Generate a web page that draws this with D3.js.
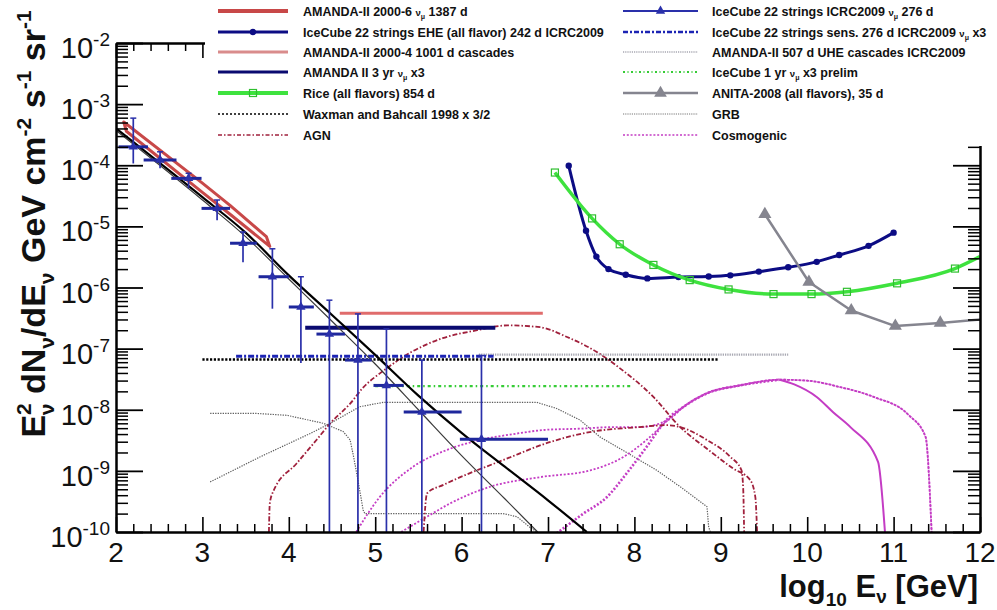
<!DOCTYPE html>
<html>
<head>
<meta charset="utf-8">
<script src="https://cdn.jsdelivr.net/npm/d3@7/dist/d3.min.js"></script>
<style>
  html,body{margin:0;padding:0;background:#fff;}
  svg{display:block;font-family:"Liberation Sans",Arial,Helvetica,sans-serif;}
  text{white-space:pre;}
</style>
</head>
<body>
<svg id="chart" width="997" height="610"></svg>
<script>
// ---------- axis ticks ----------
const xMajorTicks = [2,3,4,5,6,7,8,9,10,11,12];
const yDecadeExponents = [-2,-3,-4,-5,-6,-7,-8,-9,-10];

// ---------- data: [log10(E/GeV), E^2 dN/dE (GeV cm^-2 s^-1 sr^-1)] ----------
// AMANDA-II 2000-6 unfolded numu band (upper / lower edge)
const amandaUnfoldUpper = [[2.09,5.1e-4],[3.0,5.1e-5],[3.32,2.2e-5],[3.74,6.8e-6]];
const amandaUnfoldLower = [[2.12,3.6e-4],[3.0,3.6e-5],[3.32,1.58e-5],[3.78,4.7e-6]];

// atmospheric neutrino predictions
const atmWithPrompt = [[2,4.0e-4],[3,3.0e-5],[3.5,7.9e-6],[4,1.58e-6],[4.5,3.55e-7],[5,7.9e-8],[5.5,1.7e-8],[6,4.2e-9],[6.5,1.17e-9],[7,3.3e-10],[7.45,1.0e-10]];
const atmConventional = [[2,3.7e-4],[3,2.7e-5],[3.5,6.8e-6],[4,1.38e-6],[4.5,2.8e-7],[5,5.6e-8],[5.5,1.0e-8],[6,1.78e-9],[6.5,3.5e-10],[6.88,1.0e-10]];

// IceCube 22 strings unfolded numu spectrum (276 d)
const ic22LogE   = [2.20,2.51,2.84,3.17,3.47,3.81,4.14,4.47,4.80,5.13,5.54,6.23];
const ic22Flux   = [2.0e-4,1.22e-4,6.1e-5,1.97e-5,5.3e-6,1.5e-6,4.8e-7,1.73e-7,6.5e-8,2.5e-8,9.2e-9,3.3e-9];
const ic22LogELo = [2.03,2.32,2.64,2.99,3.32,3.65,4.00,4.32,4.65,4.98,5.33,5.98];
const ic22LogEHi = [2.37,2.70,2.99,3.32,3.63,4.00,4.29,4.65,4.96,5.33,6.00,7.00];
const ic22FluxHi = [5.9e-4,1.66e-4,7.4e-5,2.7e-5,8.1e-6,4.3e-6,1.5e-6,6.2e-7,3.7e-7,2.1e-7,6.5e-8,7.7e-8];
const ic22FluxLo = [1.07e-4,8.9e-5,4.2e-5,1.26e-5,2.6e-6,4.5e-7,5.8e-8,0,0,0,0,0]; // 0 = no lower bound

// IceCube 22 strings EHE (all flavor) 242 d
const ic22EHE = [[7.24,9.8e-5],[7.44,8.5e-6],[7.56,3.2e-6],[7.70,2.0e-6],[7.90,1.62e-6],[8.15,1.41e-6],[8.51,1.48e-6],[8.86,1.51e-6],[9.11,1.58e-6],[9.44,1.82e-6],[9.78,2.14e-6],[10.11,2.63e-6],[10.37,3.4e-6],[10.71,4.8e-6],[11.0,7.9e-6]];

// RICE (all flavors) 854 d
const rice = [[7.08,7.6e-5],[7.51,1.35e-5],[7.83,5.1e-6],[8.22,2.34e-6],[8.64,1.32e-6],[9.09,9.3e-7],[9.61,7.8e-7],[10.05,7.8e-7],[10.46,8.5e-7],[11.04,1.17e-6],[11.71,2.04e-6],[12.0,3.2e-6]];

// ANITA-2008 (all flavors) 35 d
const anita = [[9.51,1.58e-5],[10.02,1.23e-6],[10.51,4.2e-7],[11.02,2.34e-7],[11.54,2.63e-7],[12.0,3.0e-7]];

// integral limits / sensitivities: [start, value], [end, value]
const amanda3yr   = [[4.19,2.2e-7],[6.39,2.2e-7]];
const amandaCasc  = [[4.59,3.8e-7],[6.94,3.8e-7]];
const ic22Sens    = [[3.39,7.5e-8],[6.37,7.5e-8]];
const waxmanBahcall = [[3.0,6.65e-8],[8.97,6.65e-8]];
const amandaUHE   = [[6.2,8.0e-8],[9.78,8.0e-8]];
const ic1yr       = [[5.0,2.43e-8],[7.97,2.43e-8]];

// GRB models
const grbA = [[3.09,8.7e-9],[3.63,8.7e-9],[3.98,8.1e-9],[4.40,6.0e-9],[4.63,4.4e-9],[4.71,3.2e-9],[4.75,1.7e-9],[4.80,7.1e-10],[4.86,2.3e-10],[4.88,2.0e-10],[6.48,2.0e-10],[6.64,1.78e-10],[6.79,1.2e-10],[6.87,1.0e-10]];
const grbB = [[3.09,6.6e-10],[3.67,1.7e-9],[4.25,4.1e-9],[4.48,6.0e-9],[4.82,1.12e-8],[5.09,1.32e-8],[6.87,1.32e-8],[7.10,1.05e-8],[7.37,6.8e-9],[7.60,3.6e-9],[7.91,2.0e-9],[8.26,1.02e-9],[8.53,5.5e-10],[8.84,2.6e-10],[8.86,1.2e-10],[8.88,1.0e-10]];

// AGN models
const agnA = [[3.77,1.0e-10],[3.78,2.95e-10],[3.82,4.6e-10],[4.09,1.32e-9],[4.32,3.2e-9],[4.48,6.0e-9],[4.71,1.26e-8],[4.86,2.3e-8],[5.11,4.5e-8],[5.40,8.5e-8],[5.78,1.48e-7],[6.18,2.0e-7],[6.53,2.4e-7],[6.91,2.24e-7],[7.22,1.55e-7],[7.56,8.9e-8],[7.83,4.8e-8],[8.22,1.62e-8],[8.53,5.2e-9],[8.84,2.3e-9],[9.14,1.1e-9],[9.34,7.1e-10],[9.40,3.7e-10],[9.42,1.0e-10]];
const agnB = [[5.56,1.0e-10],[5.60,4.3e-10],[5.79,5.9e-10],[6.52,1.58e-9],[7.02,2.95e-9],[7.52,4.4e-9],[8.06,5.2e-9],[8.37,5.6e-9],[8.53,5.2e-9],[8.84,3.2e-9],[9.11,1.7e-9],[9.24,1.02e-9],[9.26,4.8e-10],[9.27,1.0e-10]];

// cosmogenic models
const cosmoA = [[4.78,1.0e-10],[5.05,3.7e-10],[5.44,1.17e-9],[5.83,2.2e-9],[6.21,3.2e-9],[6.60,4.0e-9],[6.98,4.7e-9],[7.37,4.9e-9],[7.76,5.2e-9],[8.06,5.2e-9],[8.39,6.8e-9],[8.57,1.12e-8],[8.84,1.86e-8],[9.22,2.5e-8],[9.68,3.1e-8],[9.99,3.0e-8],[10.38,2.35e-8],[10.77,1.62e-8],[11.17,8.3e-9],[11.37,3.6e-9],[11.44,1.0e-10]];
const cosmoB = [[5.30,1.0e-10],[5.60,1.78e-10],[5.87,2.95e-10],[6.33,5.5e-10],[6.91,7.9e-10],[7.49,1.02e-9],[7.91,1.82e-9],[8.14,3.2e-9],[8.39,6.8e-9],[8.57,1.12e-8],[8.84,1.86e-8],[9.22,2.5e-8],[9.68,3.1e-8],[9.99,3.0e-8],[10.38,2.35e-8],[10.77,1.62e-8],[11.17,8.3e-9],[11.37,3.6e-9],[11.44,1.0e-10]];
const cosmoC = [[7.10,9.5e-11],[7.41,2.0e-10],[7.68,3.7e-10],[7.91,9.1e-10],[8.14,2.45e-9],[8.37,6.8e-9],[8.57,1.12e-8],[8.84,1.86e-8],[9.22,2.5e-8],[9.68,3.1e-8]];
const cosmoCTail = [[9.68,3.1e-8],[9.85,2.6e-8],[10.11,1.62e-8],[10.30,9.1e-9],[10.50,5.2e-9],[10.82,1.4e-9],[10.90,1.0e-10]];

// ---------- layout & scales ----------
const M = {left:116, right:980, top:43, bottom:532};
const legendBox = {x:205, y:0, w:792, h:146};
const svg = d3.select("#chart");
const x = d3.scaleLinear().domain([2,12]).range([M.left, M.right]);
const y = d3.scaleLog().domain([1e-10,1e-2]).range([M.bottom, M.top]);

svg.append("rect").attr("width",997).attr("height",610).attr("fill","#fff");
svg.append("clipPath").attr("id","plotClip").append("rect")
  .attr("x",M.left).attr("y",M.top).attr("width",M.right-M.left).attr("height",M.bottom-M.top);
const plot = svg.append("g").attr("clip-path","url(#plotClip)");

const st = {
  amandaUnfold:{color:"#c84848", width:3},
  ehe:{color:"#0c0c84", width:3},
  amandaCasc:{color:"#e06c6c", width:3},
  amanda3yr:{color:"#0a0a70", width:4},
  rice:{color:"#3ee23e", width:3.5, marker:"#2fbf2f"},
  wb:{color:"#000", width:2.4, dash:"2.2,1.6"},
  agn:{color:"#a0203c", width:1.8, dash:"5,2,1.5,2"},
  ic22:{color:"#2a30aa", width:2, bar:"#1e279c"},
  ic22Sens:{color:"#1c24b4", width:3, dash:"6,2,2,2"},
  amandaUHE:{color:"#a8a8b2", width:2.2, dash:"1.3,1"},
  ic1yr:{color:"#36cc36", width:2.2, dash:"3,3,1.5,3"},
  anita:{color:"#85858f", width:2.5},
  grb:{color:"#5e5e5e", width:1.2, dash:"1.3,1.2"},
  cosmo:{color:"#c43cc4", width:2, dash:"2,1.8"}
};

function drawSeries(data, s, curve, widthOverride){
  plot.append("path").datum(data)
    .attr("fill","none")
    .attr("stroke", s.color)
    .attr("stroke-width", widthOverride || s.width)
    .attr("stroke-dasharray", s.dash || null)
    .attr("stroke-linejoin","round")
    .attr("d", d3.line().x(d=>x(d[0])).y(d=>y(d[1])).curve(curve || d3.curveLinear));
}

// ---------- model curves ----------
drawSeries(grbA, st.grb);
drawSeries(grbB, st.grb);
drawSeries(cosmoA, st.cosmo, d3.curveMonotoneX, 1.8);
drawSeries(cosmoB, st.cosmo, d3.curveMonotoneX, 1.8);
drawSeries(cosmoC, st.cosmo, d3.curveMonotoneX, 2.6);
drawSeries(cosmoCTail, {color:st.cosmo.color, width:2}, d3.curveMonotoneX);
drawSeries(agnA, st.agn, d3.curveMonotoneX);
drawSeries(agnB, st.agn, d3.curveMonotoneX);

// ---------- integral limits ----------
drawSeries(amandaUHE, st.amandaUHE);
drawSeries(waxmanBahcall, st.wb);
drawSeries(ic22Sens, st.ic22Sens);
drawSeries(ic1yr, st.ic1yr);
drawSeries(amandaCasc, st.amandaCasc);
drawSeries(amanda3yr, st.amanda3yr);

// ---------- atmospheric predictions ----------
drawSeries(atmConventional, {color:"#3a3a3a", width:1.2}, d3.curveMonotoneX);
drawSeries(atmWithPrompt, {color:"#000", width:2.2}, d3.curveMonotoneX);

// ---------- AMANDA-II unfolded band ----------
const bandPoly = amandaUnfoldUpper.concat(amandaUnfoldLower.slice().reverse());
plot.append("path").datum(bandPoly)
  .attr("fill","#fff6f4").attr("fill-opacity",0.6)
  .attr("stroke",st.amandaUnfold.color).attr("stroke-width",st.amandaUnfold.width)
  .attr("stroke-linejoin","round")
  .attr("d", d3.line().x(d=>x(d[0])).y(d=>y(d[1])).curve(d3.curveLinearClosed));

// ---------- IceCube 22 unfolded points ----------
const ic22Pts = ic22LogE.map((e,i)=>({e, f:ic22Flux[i], e0:ic22LogELo[i], e1:ic22LogEHi[i], f0:ic22FluxLo[i], f1:ic22FluxHi[i]}));
const ptG = plot.append("g");
ptG.selectAll(".vbar").data(ic22Pts).join("line")
  .attr("x1",d=>x(d.e)).attr("x2",d=>x(d.e))
  .attr("y1",d=>d.f0>0 ? y(d.f0) : M.bottom+4).attr("y2",d=>y(d.f1))
  .attr("stroke",st.ic22.color).attr("stroke-width",1.7);
ptG.selectAll(".cap").data(ic22Pts).join("line")
  .attr("x1",d=>x(d.e)-3).attr("x2",d=>x(d.e)+3)
  .attr("y1",d=>y(d.f1)).attr("y2",d=>y(d.f1))
  .attr("stroke",st.ic22.color).attr("stroke-width",1.5);
ptG.selectAll(".hbar").data(ic22Pts).join("line")
  .attr("x1",d=>x(d.e0)).attr("x2",d=>x(d.e1))
  .attr("y1",d=>y(d.f)).attr("y2",d=>y(d.f))
  .attr("stroke",st.ic22.bar).attr("stroke-width",3);
ptG.selectAll(".tri").data(ic22Pts).join("path")
  .attr("transform",d=>`translate(${x(d.e)},${y(d.f)})`)
  .attr("d", d3.symbol(d3.symbolTriangle).size(38))
  .attr("fill",st.ic22.color);

// ---------- EHE, RICE, ANITA ----------
drawSeries(ic22EHE, st.ehe, d3.curveMonotoneX);
plot.selectAll(".eheDot").data(ic22EHE).join("circle")
  .attr("cx",d=>x(d[0])).attr("cy",d=>y(d[1])).attr("r",3.2).attr("fill",st.ehe.color);

drawSeries(rice, st.rice, d3.curveMonotoneX);
plot.selectAll(".riceSq").data(rice.filter(d=>d[0]<12)).join("rect")
  .attr("x",d=>x(d[0])-3.5).attr("y",d=>y(d[1])-3.5).attr("width",7).attr("height",7)
  .attr("fill","none").attr("stroke",st.rice.marker).attr("stroke-width",1.2);

drawSeries(anita, st.anita);
plot.selectAll(".anitaTri").data(anita.filter(d=>d[0]<12)).join("path")
  .attr("transform",d=>`translate(${x(d[0])},${y(d[1])})`)
  .attr("d", d3.symbol(d3.symbolTriangle).size(75))
  .attr("fill",st.anita.color);

// ---------- axes (frame with inward ticks) ----------
const xMinor = d3.range(2,12.0001,0.2).map(v=>+v.toFixed(1)).filter(v=>Math.abs(v-Math.round(v))>1e-6);
const yMajor = yDecadeExponents.map(p=>Math.pow(10,p));
const yMinor = [];
yDecadeExponents.slice(1).forEach(p=>{ for(let k=2;k<=9;k++) yMinor.push(k*Math.pow(10,p)); });

function styleAxis(g, w){
  g.selectAll("path.domain").attr("stroke","#000").attr("stroke-width",2);
  g.selectAll(".tick line").attr("stroke","#000").attr("stroke-width",w);
  g.selectAll(".tick text").remove();
}
const axes = svg.append("g");
axes.append("g").attr("transform",`translate(0,${M.bottom})`)
  .call(d3.axisBottom(x).tickValues(xMinor).tickSize(-8).tickSizeOuter(0).tickFormat("")).call(g=>styleAxis(g,1.5));
axes.append("g").attr("transform",`translate(0,${M.bottom})`)
  .call(d3.axisBottom(x).tickValues(xMajorTicks).tickSize(-15).tickSizeOuter(0).tickFormat("")).call(g=>styleAxis(g,1.6));
axes.append("g").attr("transform",`translate(0,${M.top})`)
  .call(d3.axisTop(x).tickValues(xMinor).tickSize(-8).tickSizeOuter(0).tickFormat("")).call(g=>styleAxis(g,1.5));
axes.append("g").attr("transform",`translate(0,${M.top})`)
  .call(d3.axisTop(x).tickValues(xMajorTicks).tickSize(-15).tickSizeOuter(0).tickFormat("")).call(g=>styleAxis(g,1.6));
axes.append("g").attr("transform",`translate(${M.left},0)`)
  .call(d3.axisLeft(y).tickValues(yMinor).tickSize(-12).tickSizeOuter(0).tickFormat("")).call(g=>styleAxis(g,1.5));
axes.append("g").attr("transform",`translate(${M.left},0)`)
  .call(d3.axisLeft(y).tickValues(yMajor).tickSize(-27).tickSizeOuter(0).tickFormat("")).call(g=>styleAxis(g,1.8));
axes.append("g").attr("transform",`translate(${M.right},0)`)
  .call(d3.axisRight(y).tickValues(yMinor).tickSize(-12).tickSizeOuter(0).tickFormat("")).call(g=>styleAxis(g,1.5));
axes.append("g").attr("transform",`translate(${M.right},0)`)
  .call(d3.axisRight(y).tickValues(yMajor).tickSize(-27).tickSizeOuter(0).tickFormat("")).call(g=>styleAxis(g,1.8));

// x tick labels
svg.append("g").selectAll("text").data(xMajorTicks).join("text")
  .attr("x",d=>x(d)).attr("y",M.bottom+30)
  .attr("text-anchor","middle").attr("font-size",28).attr("fill","#111")
  .text(d=>d);

// y tick labels (10^n)
const yl = svg.append("g").selectAll("text").data(yDecadeExponents).join("text")
  .attr("x",110).attr("y",d=>y(Math.pow(10,d))+15)
  .attr("text-anchor","end").attr("fill","#111");
yl.append("tspan").attr("font-size",29).text("10");
yl.append("tspan").attr("font-size",19).attr("dy",-12).text(d=>String(d));

// axis titles
const xt = svg.append("text").attr("x",978).attr("y",597).attr("text-anchor","end")
  .attr("font-weight","bold").attr("font-size",31).attr("fill","#111");
xt.append("tspan").text("log");
xt.append("tspan").attr("font-size",19).attr("dy",9).text("10");
xt.append("tspan").attr("dy",-9).text(" E");
xt.append("tspan").attr("font-size",19).attr("dy",6).text("ν");
xt.append("tspan").attr("dy",-6).text(" [GeV]");

const yt = svg.append("text").attr("transform","translate(45,224) rotate(-90)")
  .attr("text-anchor","middle").attr("font-weight","bold").attr("font-size",34).attr("fill","#111");
yt.append("tspan").text("E");
yt.append("tspan").attr("font-size",21).attr("dy",-14).text("2");
yt.append("tspan").attr("font-size",21).attr("dx",-12).attr("dy",23).text("ν");
yt.append("tspan").attr("dy",-9).text(" dN");
yt.append("tspan").attr("font-size",21).attr("dy",9).text("ν");
yt.append("tspan").attr("dy",-9).text("/dE");
yt.append("tspan").attr("font-size",21).attr("dy",9).text("ν");
yt.append("tspan").attr("dy",-9).text(" GeV cm");
yt.append("tspan").attr("font-size",21).attr("dy",-14).text("-2");
yt.append("tspan").attr("dy",14).text(" s");
yt.append("tspan").attr("font-size",21).attr("dy",-14).text("-1");
yt.append("tspan").attr("dy",14).text(" sr");
yt.append("tspan").attr("font-size",21).attr("dy",-14).text("-1");

// ---------- legend (opaque box over the upper frame) ----------
svg.append("rect").attr("x",legendBox.x).attr("y",legendBox.y)
  .attr("width",legendBox.w).attr("height",legendBox.h).attr("fill","#fff");

const legendLeft = [
  {label:"AMANDA-II 2000-6 {numu} 1387 d", s:{color:st.amandaUnfold.color, width:4}},
  {label:"IceCube 22 strings EHE (all flavor) 242 d ICRC2009", s:st.ehe, marker:"circle"},
  {label:"AMANDA-II 2000-4 1001 d cascades", s:{color:"#d98c8c", width:3}},
  {label:"AMANDA II 3 yr {numu} x3", s:{color:st.amanda3yr.color, width:3}},
  {label:"Rice (all flavors) 854 d", s:{color:st.rice.color, width:4}, marker:"square"},
  {label:"Waxman and Bahcall 1998 x 3/2", s:{color:"#000", width:1.5, dash:"2,2"}},
  {label:"AGN", s:{color:st.agn.color, width:1.6, dash:"4,2,1.5,2"}}
];
const legendRight = [
  {label:"IceCube 22 strings ICRC2009 {numu} 276 d", s:st.ic22, marker:"triangle"},
  {label:"IceCube 22 strings sens. 276 d ICRC2009 {numu} x3", s:{color:st.ic22Sens.color, width:2.6, dash:"5,2,2,2"}},
  {label:"AMANDA-II 507 d UHE cascades ICRC2009", s:{color:"#a8a8b2", width:1.6, dash:"1.2,1"}},
  {label:"IceCube 1 yr {numu} x3 prelim", s:{color:st.ic1yr.color, width:2, dash:"2,2.5,1,2.5"}},
  {label:"ANITA-2008 (all flavors), 35 d", s:st.anita, marker:"bigTriangle"},
  {label:"GRB", s:{color:"#777", width:1, dash:"1.2,1"}},
  {label:"Cosmogenic", s:{color:st.cosmo.color, width:1.6, dash:"2,1.8"}}
];
const legendRows = [11,32,52,72,93,114,135];

function drawLegend(items, x0, x1, tx){
  const g = svg.append("g");
  items.forEach((it,i)=>{
    const yy = legendRows[i];
    g.append("line").attr("x1",x0).attr("x2",x1).attr("y1",yy).attr("y2",yy)
      .attr("stroke",it.s.color).attr("stroke-width",it.s.width).attr("stroke-dasharray",it.s.dash||null);
    const xm = (x0+x1)/2;
    if(it.marker==="circle") g.append("circle").attr("cx",xm).attr("cy",yy).attr("r",3.2).attr("fill",it.s.color);
    if(it.marker==="square") g.append("rect").attr("x",xm-3.5).attr("y",yy-3.5).attr("width",7).attr("height",7)
      .attr("fill","none").attr("stroke",st.rice.marker).attr("stroke-width",1.2);
    if(it.marker==="triangle") g.append("path").attr("transform",`translate(${xm},${yy})`)
      .attr("d",d3.symbol(d3.symbolTriangle).size(38)).attr("fill",it.s.color);
    if(it.marker==="bigTriangle") g.append("path").attr("transform",`translate(${xm},${yy})`)
      .attr("d",d3.symbol(d3.symbolTriangle).size(70)).attr("fill",it.s.color);
    const t = g.append("text").attr("x",tx).attr("y",yy+4.5)
      .attr("font-size",12.5).attr("font-weight","bold").attr("fill","#111");
    it.label.split("{numu}").forEach((p,k)=>{
      if(k>0){
        t.append("tspan").attr("font-size",9.5).text("ν");
        t.append("tspan").attr("font-size",7).attr("dy",3).text("μ");
      }
      t.append("tspan").attr("dy",k>0?-3:0).text(p);
    });
  });
}
drawLegend(legendLeft, 218, 288, 303);
drawLegend(legendRight, 623, 698, 712);
</script>
</body>
</html>
